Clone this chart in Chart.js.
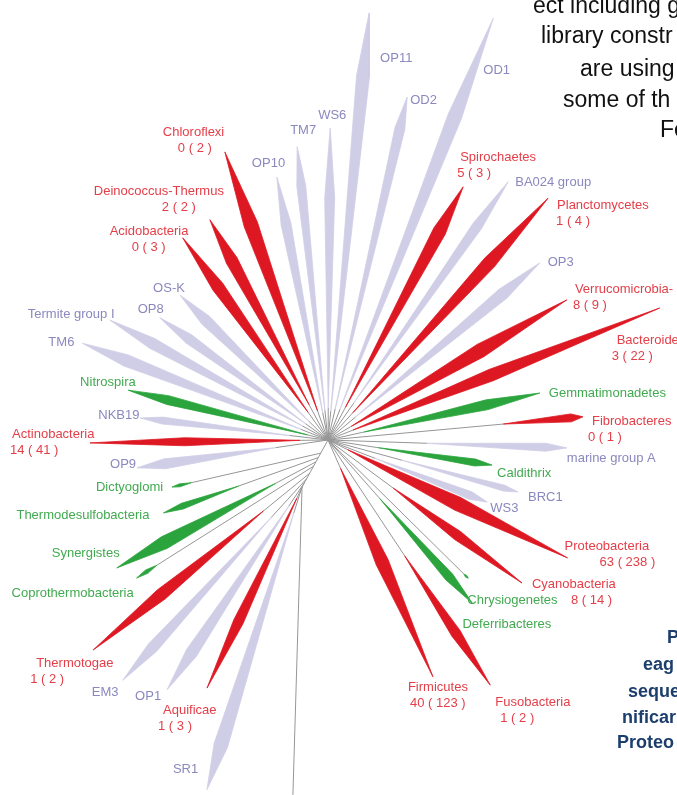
<!DOCTYPE html>
<html>
<head>
<meta charset="utf-8">
<script src="https://cdn.jsdelivr.net/npm/chart.js@4.4.1/dist/chart.umd.min.js"></script>
<style>
  html, body { margin: 0; padding: 0; background: #fff; overflow: hidden; }
  canvas { display: block; }
</style>
</head>
<body>
<canvas id="tree" width="677" height="795"></canvas>
<script>
// Bacterial phyla around the tree, clockwise from the upper left.
const phyla = [
  "Chloroflexi", "Deinococcus-Thermus", "Acidobacteria", "OS-K", "OP8", "Termite group I",
  "TM6", "Nitrospira", "NKB19", "Actinobacteria", "OP9", "Dictyoglomi",
  "Thermodesulfobacteria", "Synergistes", "Coprothermobacteria", "Thermotogae", "EM3", "OP1",
  "Aquificae", "SR1", "Firmicutes", "Fusobacteria", "Deferribacteres", "Chrysiogenetes",
  "Cyanobacteria", "Proteobacteria", "WS3", "BRC1", "Caldithrix", "marine group A",
  "Fibrobacteres", "Gemmatimonadetes", "Bacteroidetes", "Verrucomicrobia-", "OP3", "Planctomycetes",
  "BA024 group", "Spirochaetes", "OD1", "OD2", "OP11", "WS6", "TM7", "OP10"
];
// g = phylum with genome projects, c = cultured, u = candidate (uncultured) division
const group = [
  "g","g","g","u","u","u",
  "u","c","u","g","u","c",
  "c","c","c","g","u","u",
  "g","u","g","g","c","c",
  "g","g","u","u","c","u",
  "g","c","g","g","u","g",
  "u","g","u","u","u","u","u","u"
];
// Genome counts: finished ( in progress )
const finished = [
  0,2,0,null,null,null, null,null,null,14,null,null,
  null,null,null,1,null,null, 1,null,40,1,null,null,
  8,63,null,null,null,null, 0,null,3,8,null,1,
  null,5,null,null,null,null,null,null
];
const inProgress = [
  2,2,3,null,null,null, null,null,null,41,null,null,
  null,null,null,2,null,null, 3,null,123,2,null,null,
  14,238,null,null,null,null, 1,null,22,9,null,4,
  null,3,null,null,null,null,null,null
];
// Branch direction (degrees, counter-clockwise from east) and distance from the root
const angleDeg = [
  109.7, 118.2, 125.7, 135.6, 144.0, 151.2,
  158.5, 166.0, 173.3, 180.7, 188.3, 196.8,
  203.9, 211.2, 215.8, 221.8, 229.5, 237.2,
  244.0, 250.9, 293.9, 303.5, 311.5, 315.4,
  323.6, 333.8, 338.7, 344.7, 351.3, 358.1,
  5.2, 12.5, 21.7, 30.4, 39.9, 47.7,
  55.1, 61.9, 68.6, 77.0, 84.5, 89.6, 96.0, 101.0
];
const branchLen = [
  306, 250, 249, 207, 208, 249,
  264, 206, 189, 238, 193, 163,
  180, 247, 236, 315, 316, 297,
  276, 370, 259, 294, 218, 197,
  241, 267, 171, 197, 166, 239,
  256, 217, 357, 277, 276, 327,
  315, 287, 453, 352, 429, 312, 295, 268
];
// Distance along the basal stem where each lineage branches off
const attachAt = [
  0,0,0,0,0,0, 0,0,0,0,0,15,
  20,25,30,38,44,48, 52,54,0,0,0,0,
  0,0,0,0,0,0, 0,0,0,0,0,0, 0,0,0,0,0,0,0,0
];
// Clade wedge: depth, relative position of the widest point, width
const wedgeLen = [
  275, 210, 215, 180, 180, 220,
  235, 185, 150, 210, 140, 20,
  80, 180, 24, 220, 220, 220,
  210, 290, 228, 155, 140, 6,
  160, 245, 120, 120, 115, 140,
  80, 180, 330, 250, 240, 290,
  270, 250, 420, 320, 400, 280, 265, 240
];
const shoulder = [
  0.72, 0.78, 0.72, 0.80, 0.80, 0.78,
  0.80, 0.78, 0.85, 0.55, 0.80, 0.60,
  0.75, 0.70, 0.50, 0.60, 0.80, 0.80,
  0.65, 0.84, 0.45, 0.60, 0.75, 0.50,
  0.50, 0.50, 0.85, 0.88, 0.85, 0.85,
  0.85, 0.70, 0.45, 0.60, 0.80, 0.70,
  0.80, 0.80, 0.75, 0.90, 0.84, 0.75, 0.85, 0.80
];
const wedgeWidth = [
  14, 12, 12, 11, 10, 11,
  12, 9, 7, 8, 10, 3,
  6, 13, 4, 12, 11, 12,
  10, 14, 13, 10, 9, 2,
  10, 14, 8, 6, 7, 8,
  8, 10, 12, 14, 12, 13,
  10, 13, 14, 10, 13, 10, 9, 10
];
// Basal stem: [direction, length] of its two segments
const stem = [[241.1, 53.7], [268.3, 308]];

// Label placement: [name dx, name dy, count dx] in pixels from the branch tip
const labelLayout = [
  [-62,-19,-47], [-116,-28,-48], [-73,-6,-51], [-27,-7], [-22,-8], [-82,-6],
  [-34,-1], [-48,-8], [-42,-3], [-78,-8,-80], [-27,-3], [-76,0],
  [-147,2], [-65,-15], [-125,15], [-57,13,-63], [-31,12], [-32,7],
  [-44,22,-49], [-34,-20], [-25,11,-23], [5,17,10], [-10,21], [-1,22],
  [10,1,49], [-3,-11,32], [3,6], [10,5], [5,8], [0,10],
  [9,5,5], [9,0], [-43,32,-48], [8,-10,6], [8,-1], [9,7,8],
  [7,1], [-3,-29,-6], [-10,52], [3,3], [11,45], [-12,-13], [-7,-16], [-25,-14]
];

const fillColor = { g: "rgb(222,24,34)", c: "rgb(44,164,62)", u: "rgb(208,206,230)" };
const textColor = { g: "rgb(228,62,72)", c: "rgb(66,170,80)", u: "rgb(138,136,190)" };
const branchColor = "rgb(150,150,150)";

// Article text that wraps around the figure
const bodyText = [
  ["ect including g", 533, 13], ["library constr", 541, 43], ["are using", 580, 76],
  ["some of th", 563, 107], ["Fo", 660, 137]
];
const captionText = [
  ["P", 667, 643], ["eag", 643, 670], ["seque", 628, 697], ["nificar", 622, 723], ["Proteo", 617, 748]
];

const RAD = Math.PI / 180;
const polar = (deg, r) => ({ x: r * Math.cos(deg * RAD), y: r * Math.sin(deg * RAD) });
const stemNode = polar(stem[0][0], stem[0][1]);
const stemTail = polar(stem[1][0], stem[1][1]);
const stemEnd = { x: stemNode.x + stemTail.x, y: stemNode.y + stemTail.y };

const datasets = [];
const lineDs = (pts) => ({
  data: pts, showLine: true, borderColor: branchColor, borderWidth: 1,
  pointRadius: 0, fill: false, order: 2
});
datasets.push(lineDs([{ x: 0, y: 0 }, stemNode, stemEnd]));

const tips = [];
phyla.forEach((name, i) => {
  const tip = polar(angleDeg[i], branchLen[i]);
  const org = polar(stem[0][0], attachAt[i]);
  const dx = tip.x - org.x, dy = tip.y - org.y, len = Math.hypot(dx, dy);
  const ux = dx / len, uy = dy / len, nx = -uy, ny = ux;
  const wl = wedgeLen[i], hw = wedgeWidth[i] / 2;
  const base = { x: tip.x - ux * wl, y: tip.y - uy * wl };
  const sd = wl * (1 - shoulder[i]);
  const sh = { x: tip.x - ux * sd, y: tip.y - uy * sd };
  tips.push(tip);
  datasets.push(lineDs([org, base]));
  const col = fillColor[group[i]];
  datasets.push({
    label: name,
    data: [base, { x: sh.x + nx * hw, y: sh.y + ny * hw }, tip, { x: sh.x - nx * hw, y: sh.y - ny * hw }, base],
    showLine: true, borderColor: col, backgroundColor: col, borderWidth: 0.8,
    pointRadius: 0, fill: 'shape', order: 1
  });
});

const labelPlugin = {
  id: 'phylumLabels',
  afterDatasetsDraw(chart) {
    const { ctx, scales: { x, y } } = chart;
    ctx.save();
    ctx.font = "13px 'Liberation Sans', Arial, sans-serif";
    ctx.textBaseline = 'middle';
    ctx.textAlign = 'left';
    phyla.forEach((name, i) => {
      const px = x.getPixelForValue(tips[i].x), py = y.getPixelForValue(tips[i].y);
      const lay = labelLayout[i];
      ctx.fillStyle = textColor[group[i]];
      ctx.fillText(name, px + lay[0], py + lay[1]);
      if (finished[i] !== null) {
        ctx.fillText(finished[i] + " ( " + inProgress[i] + " )", px + lay[2], py + lay[1] + 16);
      }
    });
    ctx.textBaseline = 'alphabetic';
    ctx.fillStyle = '#111';
    ctx.font = "23px 'Liberation Sans', Arial, sans-serif";
    bodyText.forEach(([t, tx, ty]) => ctx.fillText(t, tx, ty));
    ctx.fillStyle = 'rgb(28,62,108)';
    ctx.font = "bold 18px 'Liberation Sans', Arial, sans-serif";
    captionText.forEach(([t, tx, ty]) => ctx.fillText(t, tx, ty));
    ctx.restore();
  }
};

new Chart(document.getElementById('tree'), {
  type: 'scatter',
  data: { datasets },
  options: {
    responsive: false,
    animation: false,
    devicePixelRatio: 1,
    layout: { padding: 0 },
    elements: { line: { tension: 0 } },
    plugins: { legend: { display: false }, tooltip: { enabled: false } },
    scales: {
      x: { type: 'linear', min: -328, max: 349, display: false },
      y: { type: 'linear', min: -355, max: 440, display: false }
    }
  },
  plugins: [labelPlugin]
});
</script>
</body>
</html>
